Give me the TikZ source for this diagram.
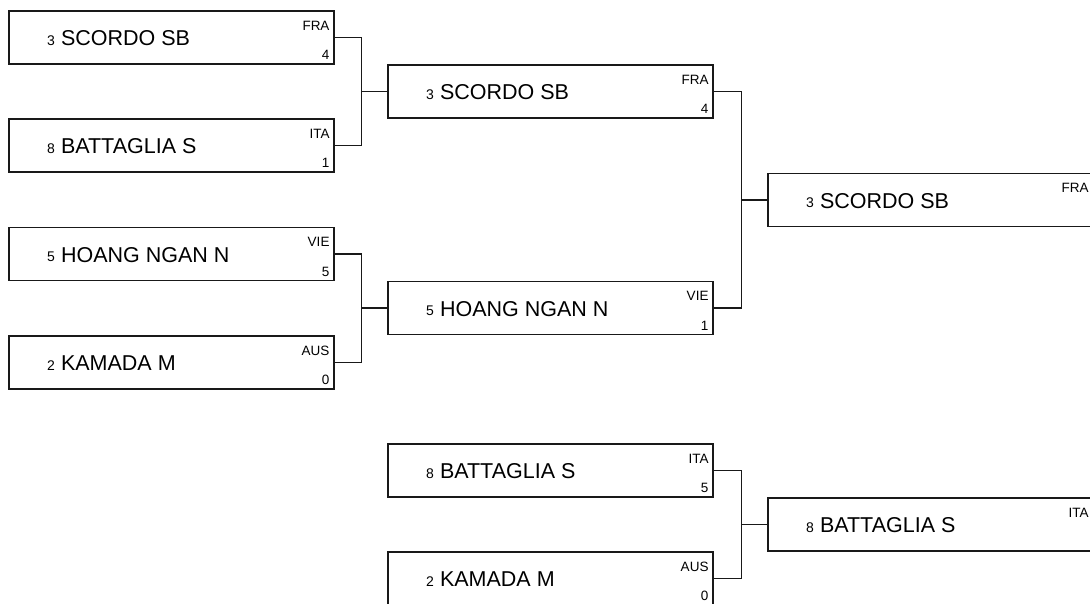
\documentclass[tikz,border=0pt]{standalone}
\usepackage{fontspec}
\setmainfont{Liberation Sans}
\tikzset{
  entry/.style={draw=black!90, line width=1.4pt, minimum width=325pt, minimum height=53pt, inner sep=0pt},
  seednum/.style={font=\fontsize{14}{16}\selectfont, inner sep=0pt, anchor=base west},
  pname/.style={font=\fontsize{21.5}{24}\selectfont, inner sep=0pt, anchor=base west},
  nation/.style={font=\fontsize{13.5}{15}\selectfont, inner sep=0pt, anchor=base east},
  score/.style={font=\fontsize{13.5}{15}\selectfont, inner sep=0pt, anchor=base east},
  link/.style={draw=black!90, line width=1.4pt},
}

\begin{document}
\begin{tikzpicture}[x=1pt, y=-1pt]
\useasboundingbox (0,0) rectangle (1090,603);
% first round
\node[entry] (q1) at (171.5,37.5) {};
\node[seednum] (q1d) at ([xshift=38.5pt,yshift=-7.5pt]q1.west) {3};
\node[pname] (q1n) at ([xshift=52.5pt,yshift=-8pt]q1.west) {SCORDO SB};
\node[nation] (q1c) at ([xshift=-5pt,yshift=-20pt]q1.north east) {FRA};
\node[score] (q1s) at ([xshift=-5pt,yshift=5pt]q1.south east) {4};
\node[entry] (q2) at (171.5,145.5) {};
\node[seednum] (q2d) at ([xshift=38.5pt,yshift=-7.5pt]q2.west) {8};
\node[pname] (q2n) at ([xshift=52.5pt,yshift=-8pt]q2.west) {BATTAGLIA S};
\node[nation] (q2c) at ([xshift=-5pt,yshift=-20pt]q2.north east) {ITA};
\node[score] (q2s) at ([xshift=-5pt,yshift=5pt]q2.south east) {1};
\node[entry] (q3) at (171.5,254) {};
\node[seednum] (q3d) at ([xshift=38.5pt,yshift=-7.5pt]q3.west) {5};
\node[pname] (q3n) at ([xshift=52.5pt,yshift=-8pt]q3.west) {HOANG NGAN N};
\node[nation] (q3c) at ([xshift=-5pt,yshift=-20pt]q3.north east) {VIE};
\node[score] (q3s) at ([xshift=-5pt,yshift=5pt]q3.south east) {5};
\node[entry] (q4) at (171.5,362.5) {};
\node[seednum] (q4d) at ([xshift=38.5pt,yshift=-7.5pt]q4.west) {2};
\node[pname] (q4n) at ([xshift=52.5pt,yshift=-8pt]q4.west) {KAMADA M};
\node[nation] (q4c) at ([xshift=-5pt,yshift=-20pt]q4.north east) {AUS};
\node[score] (q4s) at ([xshift=-5pt,yshift=5pt]q4.south east) {0};
% semi finals
\node[entry] (s1) at (550.5,91.5) {};
\node[seednum] (s1d) at ([xshift=38.5pt,yshift=-7.5pt]s1.west) {3};
\node[pname] (s1n) at ([xshift=52.5pt,yshift=-8pt]s1.west) {SCORDO SB};
\node[nation] (s1c) at ([xshift=-5pt,yshift=-20pt]s1.north east) {FRA};
\node[score] (s1s) at ([xshift=-5pt,yshift=5pt]s1.south east) {4};
\node[entry] (s2) at (550.5,308) {};
\node[seednum] (s2d) at ([xshift=38.5pt,yshift=-7.5pt]s2.west) {5};
\node[pname] (s2n) at ([xshift=52.5pt,yshift=-8pt]s2.west) {HOANG NGAN N};
\node[nation] (s2c) at ([xshift=-5pt,yshift=-20pt]s2.north east) {VIE};
\node[score] (s2s) at ([xshift=-5pt,yshift=5pt]s2.south east) {1};
% final
\node[entry] (fin) at (930.5,200) {};
\node[seednum] (find) at ([xshift=38.5pt,yshift=-7.5pt]fin.west) {3};
\node[pname] (finn) at ([xshift=52.5pt,yshift=-8pt]fin.west) {SCORDO SB};
\node[nation] (finc) at ([xshift=-5pt,yshift=-20pt]fin.north east) {FRA};
% third place
\node[entry] (p1) at (550.5,470.5) {};
\node[seednum] (p1d) at ([xshift=38.5pt,yshift=-7.5pt]p1.west) {8};
\node[pname] (p1n) at ([xshift=52.5pt,yshift=-8pt]p1.west) {BATTAGLIA S};
\node[nation] (p1c) at ([xshift=-5pt,yshift=-20pt]p1.north east) {ITA};
\node[score] (p1s) at ([xshift=-5pt,yshift=5pt]p1.south east) {5};
\node[entry] (p2) at (550.5,578.5) {};
\node[seednum] (p2d) at ([xshift=38.5pt,yshift=-7.5pt]p2.west) {2};
\node[pname] (p2n) at ([xshift=52.5pt,yshift=-8pt]p2.west) {KAMADA M};
\node[nation] (p2c) at ([xshift=-5pt,yshift=-20pt]p2.north east) {AUS};
\node[score] (p2s) at ([xshift=-5pt,yshift=5pt]p2.south east) {0};
\node[entry] (pw) at (930.5,524.5) {};
\node[seednum] (pwd) at ([xshift=38.5pt,yshift=-7.5pt]pw.west) {8};
\node[pname] (pwn) at ([xshift=52.5pt,yshift=-8pt]pw.west) {BATTAGLIA S};
\node[nation] (pwc) at ([xshift=-5pt,yshift=-20pt]pw.north east) {ITA};
% connectors
\draw[link] (q1.east) -- ++(27,0) |- (s1.west);
\draw[link] (q2.east) -- ++(27,0) |- (s1.west);
\draw[link] (q3.east) -- ++(27,0) |- (s2.west);
\draw[link] (q4.east) -- ++(27,0) |- (s2.west);
\draw[link] (s1.east) -- ++(28,0) |- (fin.west);
\draw[link] (s2.east) -- ++(28,0) |- (fin.west);
\draw[link] (p1.east) -- ++(28,0) |- (pw.west);
\draw[link] (p2.east) -- ++(28,0) |- (pw.west);
\end{tikzpicture}
\end{document}
